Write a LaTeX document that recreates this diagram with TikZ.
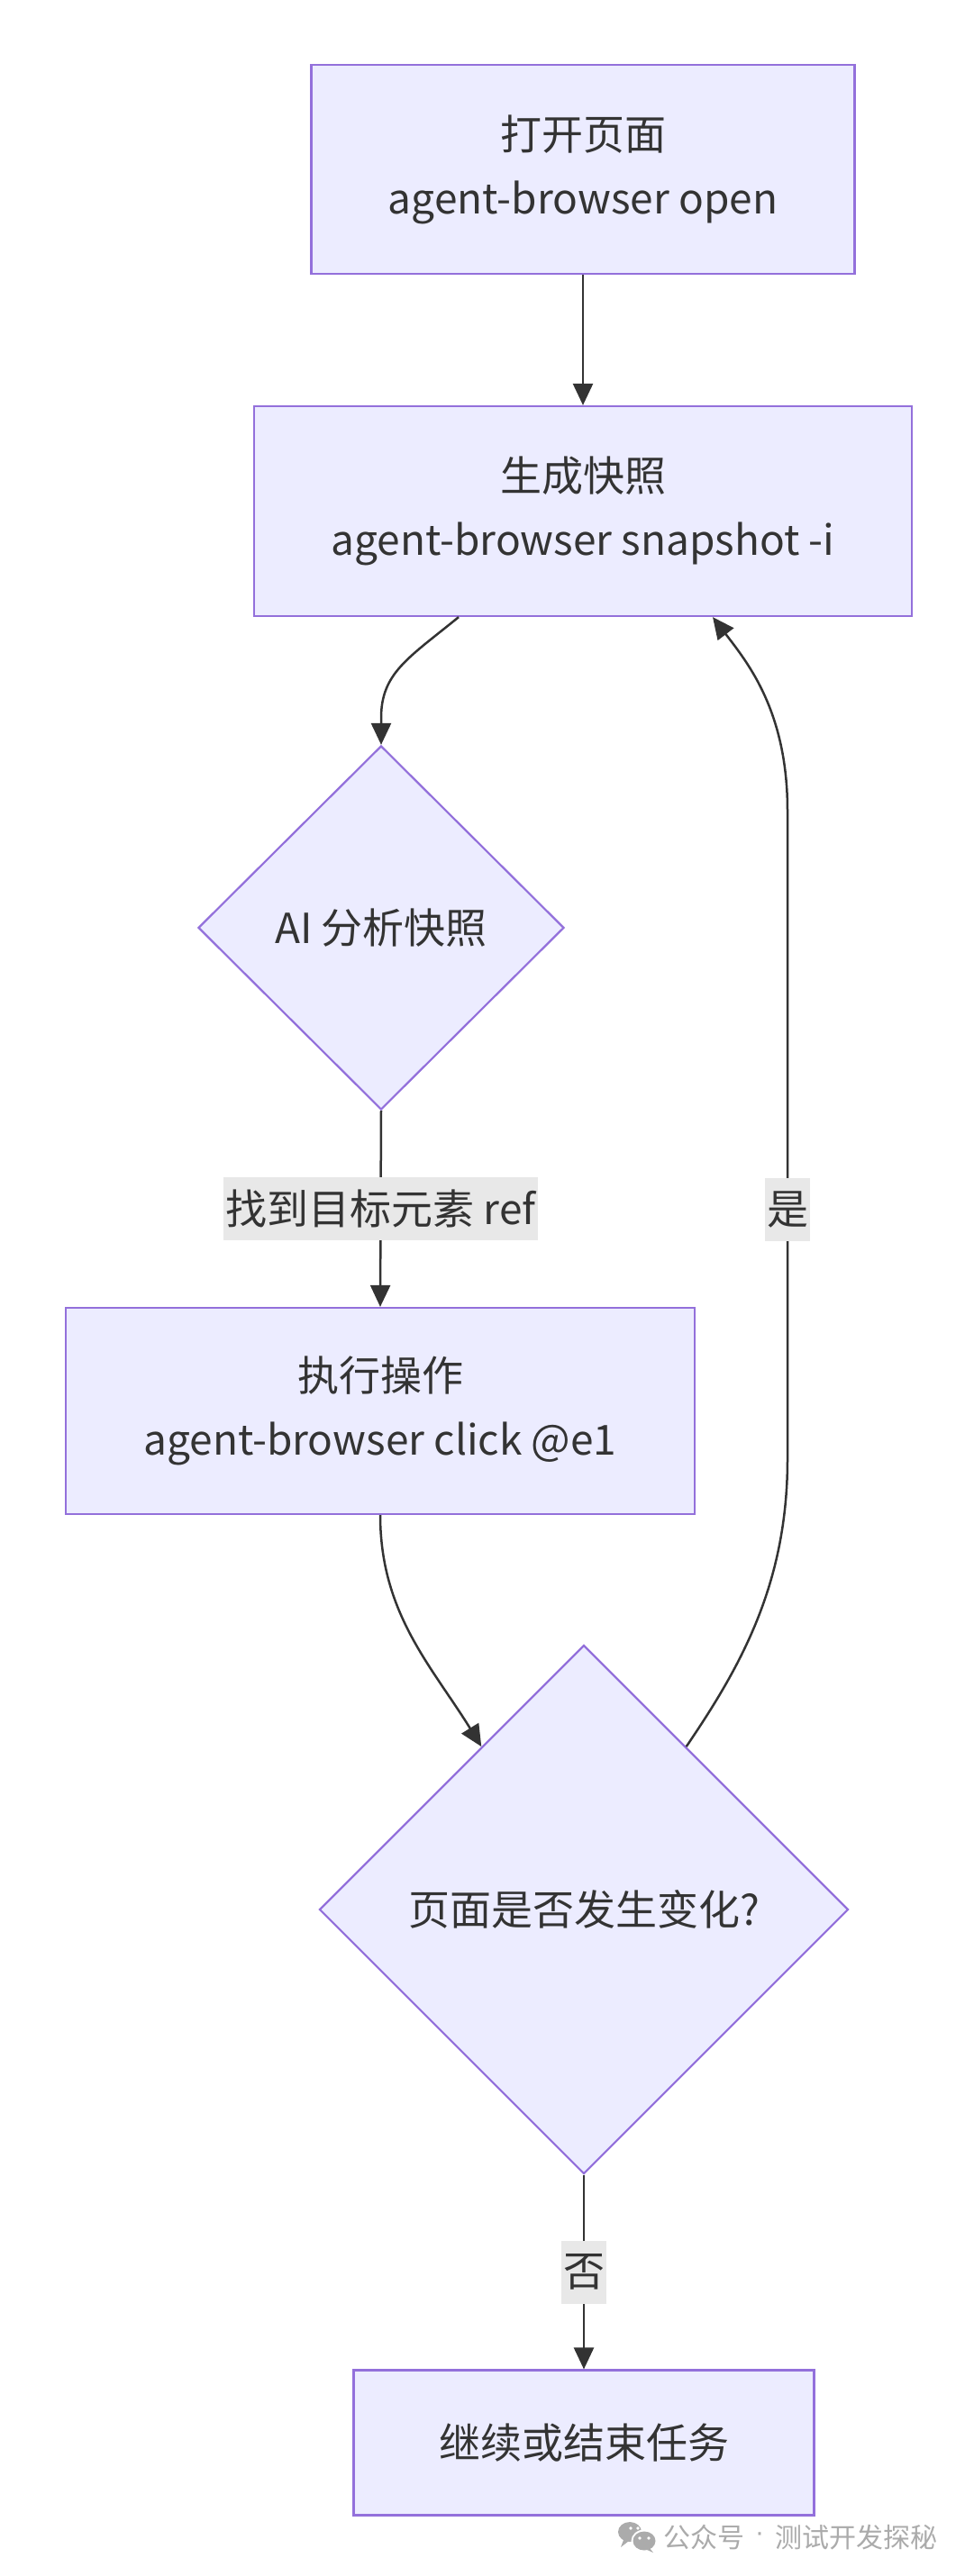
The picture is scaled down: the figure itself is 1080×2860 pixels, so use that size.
\documentclass[tikz,border=0pt]{standalone}
\usepackage{fontspec}
\setmainfont{Noto Sans CJK SC}
\newfontfamily\dotfont{Liberation Sans}
\usetikzlibrary{shapes.geometric,arrows.meta,calc}
\definecolor{nodefill}{HTML}{ECECFF}
\definecolor{nodeline}{HTML}{9370DB}
\definecolor{ink}{HTML}{333333}
\definecolor{lblbg}{HTML}{E8E8E8}
\definecolor{wm}{HTML}{ABABAB}
\begin{document}
\begin{tikzpicture}[x=1pt,y=-1pt,
  box/.style={draw=nodeline, fill=nodefill, line width=2.2pt, rectangle, inner sep=0pt, align=center, text=ink, font=\fontsize{46}{71}\selectfont},
  dia/.style={draw=nodeline, fill=nodefill, line width=2.2pt, diamond, inner sep=0pt, text=ink, font=\fontsize{46}{71}\selectfont},
  arr/.style={draw=ink, line width=2.5pt, -{Triangle[length=24pt,width=22pt]}},
  lbl/.style={fill=lblbg, text=ink, inner xsep=2pt, inner ysep=0pt, minimum height=70pt, font=\fontsize{46}{56}\selectfont},
  wmtext/.style={text=wm, font=\fontsize{30}{36}\selectfont, inner sep=0pt}]
\fill[white] (0,0) rectangle (1080,2860);
\useasboundingbox (0,0) rectangle (1080,2860);

\node[box, minimum width=603pt, minimum height=232pt] (b1) at (647,188) {打开页面\\agent-browser open};
\node[box, minimum width=730pt, minimum height=233pt] (b2) at (647,567.5) {生成快照\\agent-browser snapshot -i};
\node[dia, minimum width=406pt, minimum height=404pt] (d1) at (423,1030) {AI 分析快照};
\node[box, minimum width=698pt, minimum height=229pt] (b3) at (422,1566.5) {执行操作\\agent-browser click @e1};
\node[dia, minimum width=587pt, minimum height=587pt] (d2) at (648,2120) {页面是否发生变化?};
\node[box, minimum width=511pt, minimum height=161pt] (b4) at (648,2712) {继续或结束任务};

\draw[arr] (b1.south) -- (b2.north);
\draw[arr] ($(b2.south)+(-138,0)$) .. controls +(-55,45) and +(0,-50) .. ($(d1.north)+(0,-30)$) -- (d1.north);
\draw[arr] (d1.south) -- node[lbl] {找到目标元素 ref} (b3.north);
\draw[arr] (b3.south) .. controls +(0,109) and +(-55,-89) .. ($(d2.north)!0.386!(d2.west)$);
\draw[arr] ($(d2.north)!0.386!(d2.east)$) .. controls +(59,-87) and +(0,140) .. (874,1620)
  -- node[lbl, pos=0.385] {是} (874,900)
  .. controls +(0,-110) and +(39,51) .. ($(b2.south)+(144,0)$);
\draw[arr] (d2.south) -- node[lbl] {否} (b4.north);

% watermark
\fill[wm] (699,2811) ellipse [x radius=13, y radius=11];
\fill[wm] (692,2820) -- (689,2828) -- (698,2821) -- cycle;
\fill[white] (700,2807) circle (1.8) (708,2807) circle (1.8);
\fill[white] (715,2821) ellipse [x radius=14.5, y radius=12.5];
\fill[wm] (715,2821) ellipse [x radius=12.5, y radius=10.5];
\fill[wm] (721,2829) -- (725,2834) -- (716,2830) -- cycle;
\fill[white] (710,2818) circle (1.8) (720,2818) circle (1.8);
\node[wmtext, anchor=west] (wm1) at (736,2817) {公众号};
\node[wmtext] (wm2) at (843,2817) {\dotfont ·};
\node[wmtext, anchor=west] (wm3) at (860,2817) {测试开发探秘};
\end{tikzpicture}
\end{document}
